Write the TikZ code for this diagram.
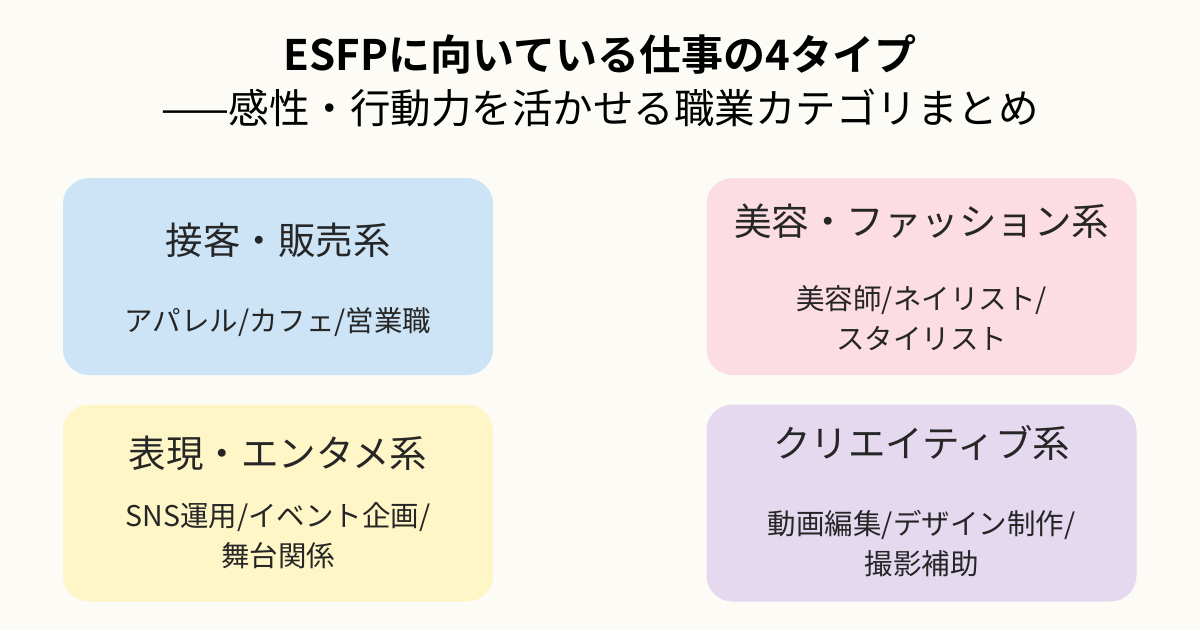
\documentclass[tikz,border=0pt]{standalone}
\usepackage{fontspec}
\setmainfont{Noto Sans CJK JP}[BoldFont={Noto Sans CJK JP Bold}]
\definecolor{bgcol}{HTML}{FCFBF6}
\definecolor{bluebox}{HTML}{CCE4F6}
\definecolor{pinkbox}{HTML}{FBDDE3}
\definecolor{yellowbox}{HTML}{FFF6C7}
\definecolor{purplebox}{HTML}{E5D9F0}
\tikzset{
  card/.style={rounded corners=26pt, minimum width=430pt, minimum height=197pt, inner sep=0pt},
  cardtitle/.style={font=\fontsize{37.5}{44}\selectfont, text=black!85},
  carditem/.style={font=\fontsize{28.5}{40}\selectfont, text=black!85, align=center}
}
\begin{document}
\begin{tikzpicture}[x=1pt,y=-1pt]
  \fill[bgcol] (0,0) rectangle (1200,630);
  \useasboundingbox (0,0) rectangle (1200,630);

  % heading
  \node (title) at (600,55) {\fontsize{42}{50}\selectfont\bfseries ESFPに向いている仕事の4タイプ};
  \node (subtitle) at (600,108) {\fontsize{40.5}{48}\selectfont ——感性・行動力を活かせる職業カテゴリまとめ};

  % cards
  \node[card, fill=bluebox] (sales) at (278,276.5) {};
  \node[card, fill=pinkbox] (beauty) at (921.5,276.5) {};
  \node[card, fill=yellowbox] (enter) at (278,503) {};
  \node[card, fill=purplebox] (create) at (921.5,503) {};

  \node[cardtitle] (salest) at (278,240) {接客・販売系};
  \node[carditem] (salesi) at (278,322) {アパレル/カフェ/営業職};

  \node[cardtitle] (beautyt) at (921.5,221) {美容・ファッション系};
  \node[carditem] (beautyi) at (921.5,318) {美容師/ネイリスト/\\スタイリスト};

  \node[cardtitle] (entert) at (278,453) {表現・エンタメ系};
  \node[carditem] (enteri) at (278,536) {SNS運用/イベント企画/\\舞台関係};

  \node[cardtitle] (createt) at (921.5,443) {クリエイティブ系};
  \node[carditem] (createi) at (921.5,544) {動画編集/デザイン制作/\\撮影補助};
\end{tikzpicture}
\end{document}
